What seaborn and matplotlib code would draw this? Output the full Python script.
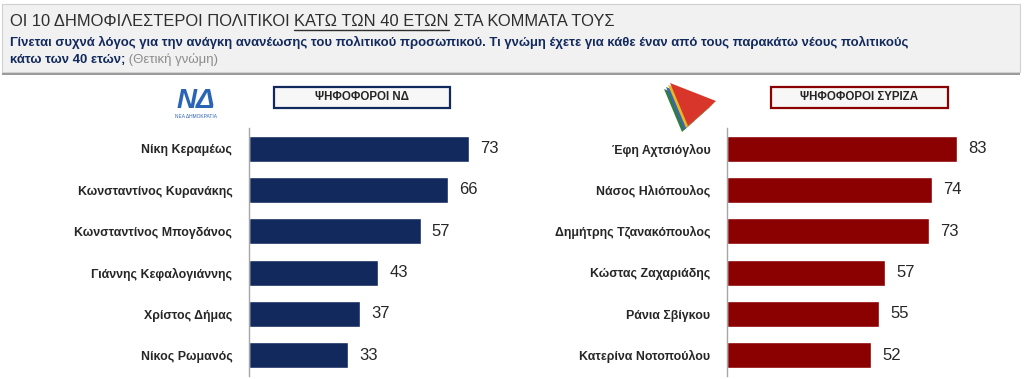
#!/usr/bin/env python3

import numpy as np
import pandas as pd
import seaborn as sns
from matplotlib import pyplot as plt
from matplotlib import patches as mpatches

# data
nd_names = [
    'Νίκη Κεραμέως',
    'Κωνσταντίνος Κυρανάκης',
    'Κωνσταντίνος Μπογδάνος',
    'Γιάννης Κεφαλογιάννης',
    'Χρίστος Δήμας',
    'Νίκος Ρωμανός',
]
nd_values = [73, 66, 57, 43, 37, 33]

syriza_names = [
    'Έφη Αχτσιόγλου',
    'Νάσος Ηλιόπουλος',
    'Δημήτρης Τζανακόπουλος',
    'Κώστας Ζαχαριάδης',
    'Ράνια Σβίγκου',
    'Κατερίνα Νοτοπούλου',
]
syriza_values = [83, 74, 73, 57, 55, 52]

title_parts = [
    'ΟΙ 10 ΔΗΜΟΦΙΛΕΣΤΕΡΟΙ ΠΟΛΙΤΙΚΟΙ ',
    'ΚΑΤΩ ΤΩΝ 40 ΕΤΩΝ',
    ' ΣΤΑ ΚΟΜΜΑΤΑ ΤΟΥΣ',
]
subtitle_1 = ('Γίνεται συχνά λόγος για την ανάγκη ανανέωσης του πολιτικού '
              'προσωπικού. Τι γνώμη έχετε για κάθε έναν από τους παρακάτω '
              'νέους πολιτικούς')
subtitle_2 = 'κάτω των 40 ετών;'
subtitle_note = ' (Θετική γνώμη)'

nd_header = 'ΨΗΦΟΦΟΡΟΙ ΝΔ'
syriza_header = 'ΨΗΦΟΦΟΡΟΙ ΣΥΡΙΖΑ'

NAVY = '#12295e'
RED = '#8b0000'
W, H = 1024, 379


def fx(px):
    return px / W


def fy(py):
    # pixel y measured from top
    return 1 - py / H


def panel(fig, rect, names, values, color):
    ax = fig.add_axes(rect)
    df = pd.DataFrame({'name': names, 'value': values})
    sns.barplot(data=df, x='value', y='name', orient='h', color=color,
                width=0.63, saturation=1, ax=ax)
    ax.set_xlim(0, 100)
    ax.set_ylim(5.5, -0.5)
    ax.set_xlabel('')
    ax.set_ylabel('')
    ax.set_facecolor('none')
    for s in ['top', 'right', 'bottom']:
        ax.spines[s].set_visible(False)
    ax.spines['left'].set_color('#a6a6a6')
    ax.spines['left'].set_linewidth(1)
    ax.set_xticks([])
    ax.set_yticks(np.arange(-0.5, 6, 1), minor=True)
    ax.tick_params(axis='y', which='major', length=0, pad=12,
                   labelsize=8.9, labelcolor='#262626')
    for lbl in ax.get_yticklabels():
        lbl.set_fontweight('bold')
    ax.tick_params(axis='y', which='minor', length=4, color='#a6a6a6',
                   width=1)
    for c in ax.containers:
        ax.bar_label(c, padding=8, fontsize=12, color='#262626')
    return ax


def main():
    sns.set_theme(style='white')
    plt.rcParams['font.family'] = ['Liberation Sans', 'DejaVu Sans']

    fig = plt.figure(figsize=(W / 100, H / 100), dpi=100)
    fig.patch.set_facecolor('white')

    # header band
    fig.patches.append(mpatches.Rectangle(
        (fx(2), fy(75)), fx(1018), 4 / H, transform=fig.transFigure,
        facecolor='#9a9a9a', edgecolor='none', zorder=0))
    fig.patches.append(mpatches.Rectangle(
        (fx(2), fy(72)), fx(1018), 68 / H, transform=fig.transFigure,
        facecolor='#f1f1f1', edgecolor='#d0d0d0', linewidth=0.8, zorder=1))

    # title with underlined middle part
    renderer = fig.canvas.get_renderer()
    x = fx(10)
    for i, part in enumerate(title_parts):
        t = fig.text(x, fy(21), part, fontsize=11.9, color='#2e2e2e',
                     va='center', ha='left', zorder=3)
        bb = t.get_window_extent(renderer)
        if i == 1:
            fig.add_artist(plt.Line2D(
                [bb.x0 / W, bb.x1 / W], [fy(30), fy(30)],
                transform=fig.transFigure, color='#2e2e2e', linewidth=1,
                zorder=3))
        x = bb.x1 / W

    fig.text(fx(10), fy(42), subtitle_1, fontsize=9.45, color=NAVY,
             fontweight='bold', va='center', ha='left', zorder=3)
    t = fig.text(fx(10), fy(60), subtitle_2, fontsize=9.45, color=NAVY,
                 fontweight='bold', va='center', ha='left', zorder=3)
    bb = t.get_window_extent(renderer)
    fig.text(bb.x1 / W, fy(60), subtitle_note, fontsize=9.45,
             color='#8c8c8c', va='center', ha='left', zorder=3)

    # panels
    panel(fig, [fx(249), fy(376), fx(301), 248 / H], nd_names, nd_values,
          NAVY)
    panel(fig, [fx(727), fy(376), fx(277), 248 / H], syriza_names,
          syriza_values, RED)

    # panel header boxes
    for (x0, x1), label, col in [((274, 450), nd_header, NAVY),
                                 ((771, 948), syriza_header, RED)]:
        fig.patches.append(mpatches.Rectangle(
            (fx(x0), fy(108)), fx(x1 - x0), 21 / H,
            transform=fig.transFigure, facecolor='#f7f7f7', edgecolor=col,
            linewidth=1.6, zorder=2))
        fig.text(fx((x0 + x1) / 2), fy(97.5), label, fontsize=8.3,
                 color='#262626', fontweight='bold', ha='center',
                 va='center', zorder=3)

    # simple ND logo
    fig.text(fx(196), fy(101), 'ΝΔ', fontsize=20, fontweight='bold',
             fontstyle='italic', color='#2a64b5', ha='center', va='center')
    fig.text(fx(196), fy(116), 'ΝΕΑ ΔΗΜΟΚΡΑΤΙΑ', fontsize=3.5,
             color='#2a64b5', ha='center', va='center')

    # simple SYRIZA logo (layered triangles, shifted down-left)
    layers = [('#2f7d3a', 6), ('#3a66b0', 4), ('#e8b820', 2),
              ('#d9362b', 0)]
    for c, off in layers:
        pts = [(670 - off, 83 + off), (716 - off, 101 + off),
               (688 - off, 126 + off)]
        fig.patches.append(mpatches.Polygon(
            [(fx(px), fy(py)) for px, py in pts], closed=True,
            transform=fig.transFigure, facecolor=c, edgecolor='none',
            zorder=2))

    fig.savefig('out.png', dpi=100)
    plt.close(fig)


if __name__ == '__main__':
    main()
